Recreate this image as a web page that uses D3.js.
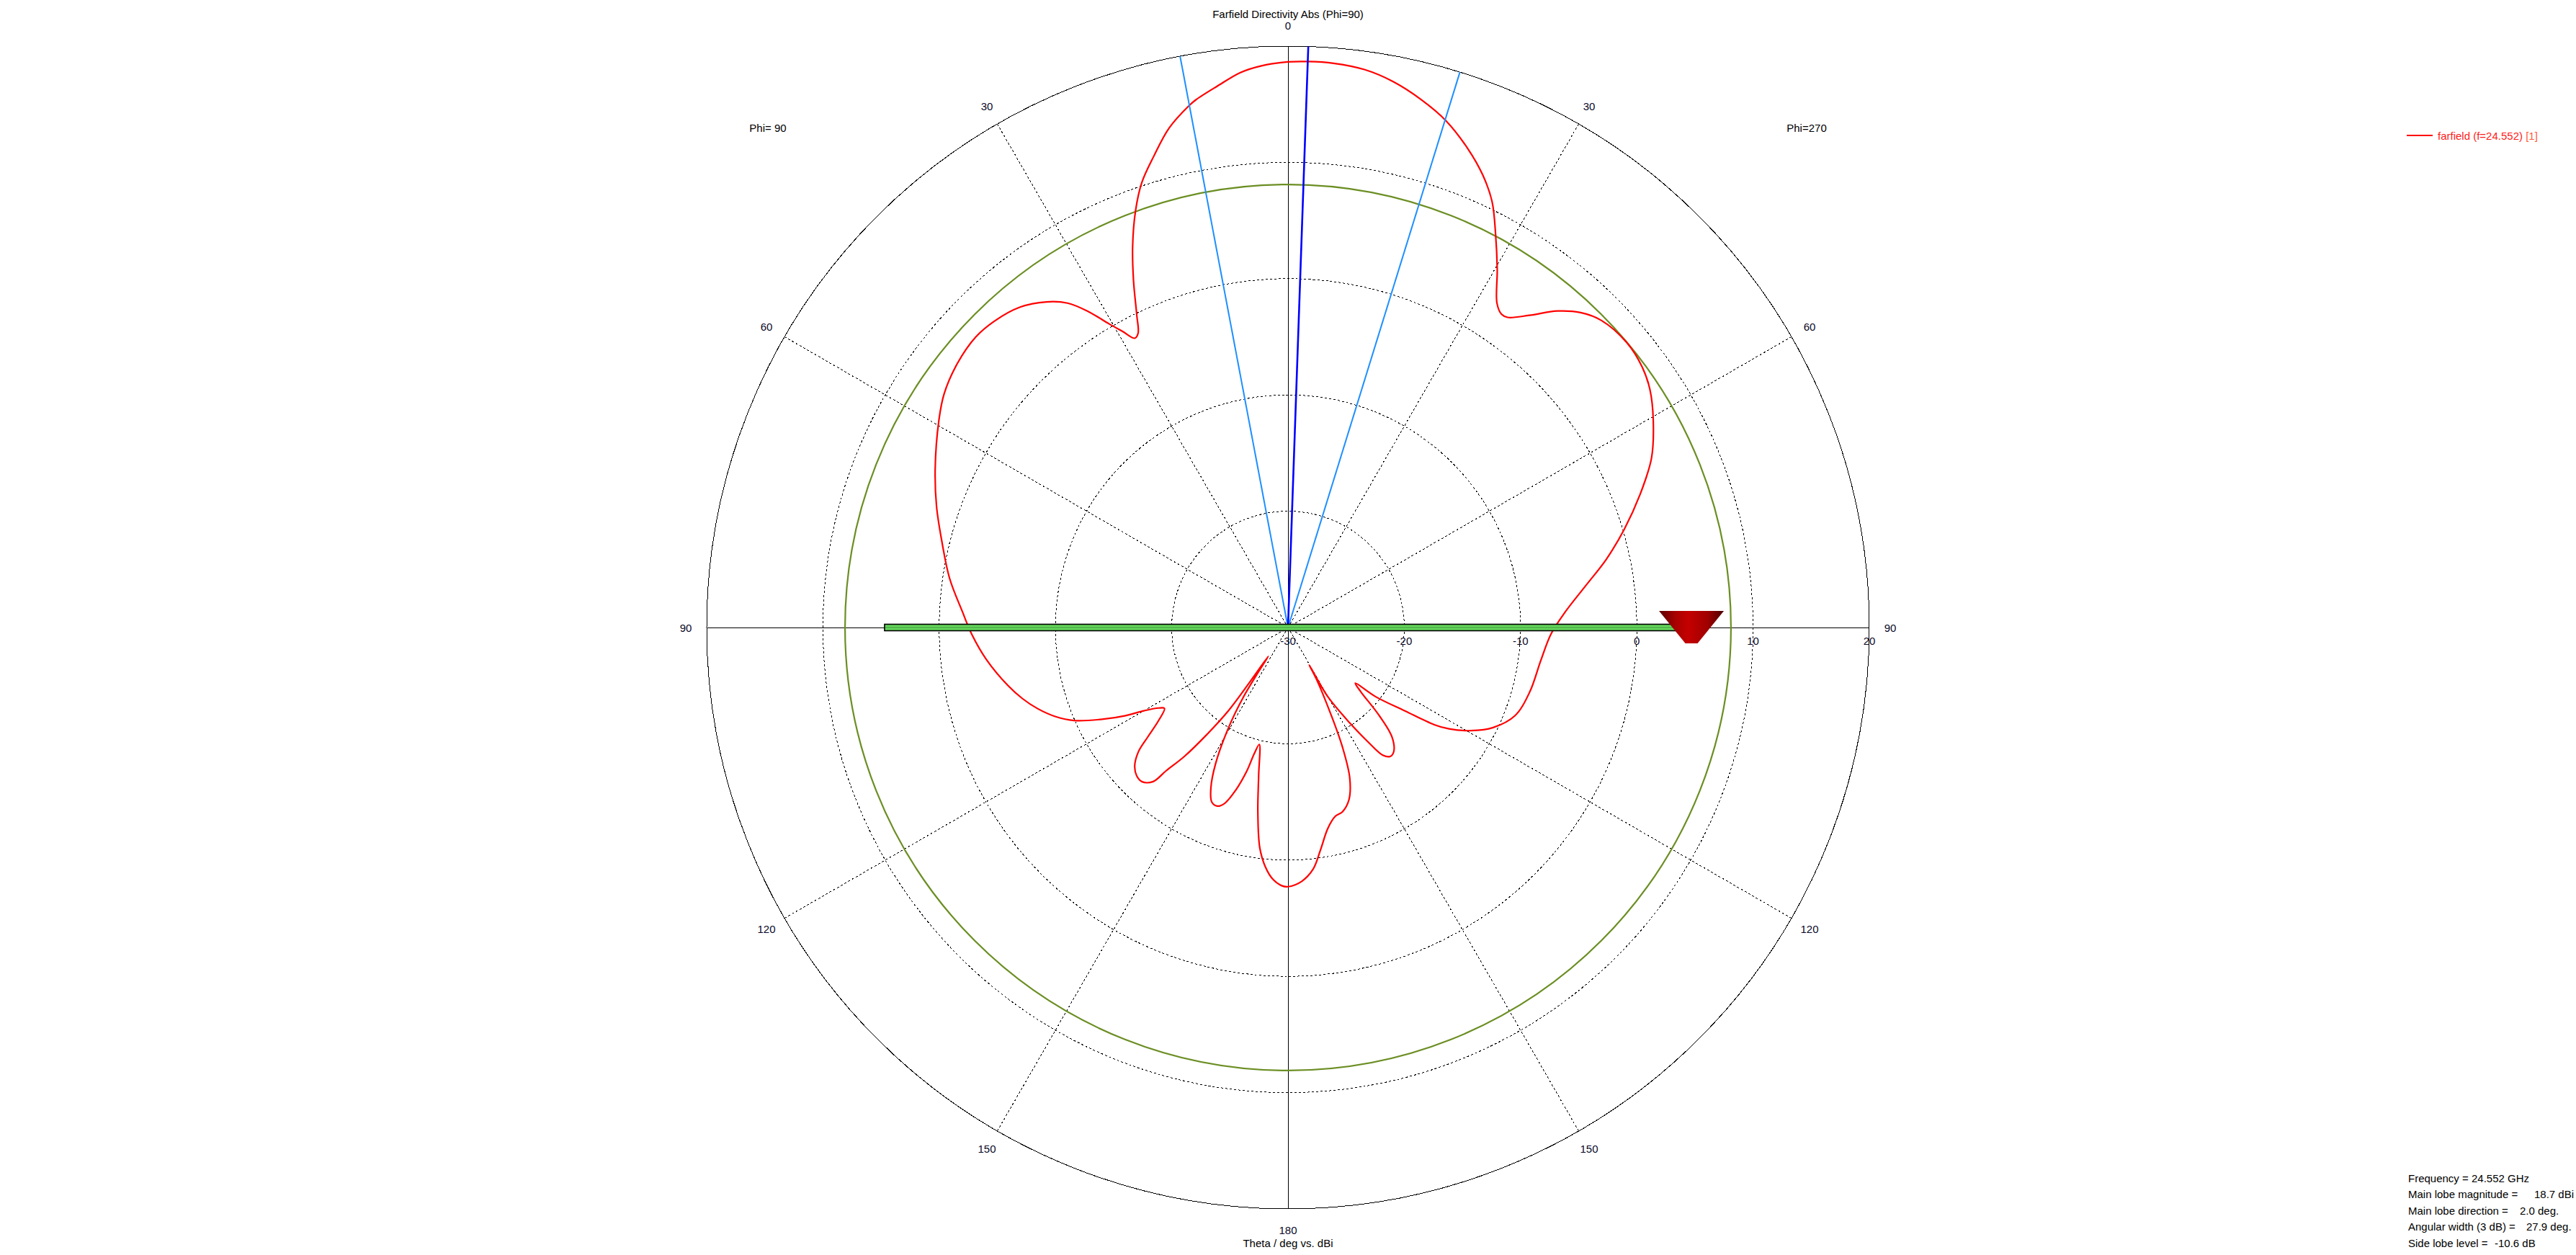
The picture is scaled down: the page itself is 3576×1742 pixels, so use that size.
<!DOCTYPE html>
<html>
<head>
<meta charset="utf-8">
<script src="https://cdn.jsdelivr.net/npm/d3@7"></script>
<style>
  html, body { margin: 0; padding: 0; background: #fff; }
  svg { display: block; }
  text { font-family: "Liberation Sans", Arial, sans-serif; font-size: 15px; }
</style>
</head>
<body>
<div id="chart"></div>
<script>
// ---------------- DATA ----------------
// Display angle (deg, clockwise from top; left half = Phi 90, right half = Phi 270)
const thetaDeg = [
  -178.6, -176.5, -174.6, -172.7, -170.7, -168.8, -166.2, -165.0, -164.0, -162.2,
  -160.2, -158.4, -156.4, -154.3, -152.0, -149.3, -147.3, -146.3, -145.6, -145.0,
  -144.4, -142.8, -141.2, -139.6, -138.8, -136.6, -134.4, -132.1, -129.7, -128.0,
  -125.7, -123.2, -121.9, -120.0, -118.5, -116.4, -113.5, -111.0, -107.9, -105.0,
  -101.7, -96.0, -91.2, -87.3, -81.7, -75.9, -71.0, -65.8, -59.3, -55.8,
  -51.4, -47.1, -43.8, -39.9, -36.6, -34.2, -32.3, -30.5, -29.2, -27.9,
  -27.0, -25.8, -24.0, -22.2, -20.1, -18.2, -15.9, -13.4, -10.7, -9.9,
  -7.5, -4.9, -2.7, 0.0, 2.0, 4.6, 7.8, 10.9, 14.2, 17.3,
  20.6, 23.3, 25.6, 27.9, 30.3, 32.8, 34.3, 35.3, 37.7, 40.4,
  42.9, 45.6, 50.0, 53.7, 56.7, 60.4, 65.0, 69.4, 73.7, 77.9,
  82.0, 86.8, 91.4, 97.4, 104.9, 111.2, 116.0, 119.4, 122.2, 123.6,
  125.5, 128.3, 129.6, 131.4, 134.0, 136.5, 139.6, 141.6, 143.4, 145.0,
  147.1, 150.1, 150.5, 151.2, 153.8, 155.5, 157.7, 160.5, 163.5, 166.0,
  168.8, 171.7, 174.1, 176.9, 180.0
];
const directivityDbi = [
  -7.79, -8.33, -9.32, -10.9, -13.95, -17.0, -19.65, -18.74, -17.17, -15.32,
  -13.93, -13.48, -13.62, -14.71, -16.73, -19.98, -22.9, -25.5, -27.0, -24.2,
  -21.2, -18.4, -15.77, -13.81, -12.39, -11.74, -11.78, -12.23, -13.28, -14.68,
  -16.3, -17.3, -16.9, -15.68, -14.11, -12.28, -9.94, -8.6, -7.34, -6.36,
  -5.4, -3.9, -2.79, -1.98, -0.58, 0.71, 1.97, 3.27, 4.92, 5.76,
  6.39, 6.68, 6.5, 5.92, 4.88, 3.73, 2.15, 0.3, -0.83, -1.85,
  -1.6, -0.1, 2.67, 5.37, 8.16, 10.27, 12.14, 14.15, 15.7, 16.07,
  16.93, 17.9, 18.36, 18.64, 18.7, 18.68, 18.43, 17.81, 16.81, 15.66,
  13.98, 12.36, 10.62, 8.17, 5.67, 3.18, 2.6, 2.68, 3.93, 5.74,
  6.97, 7.74, 8.07, 7.81, 7.25, 6.13, 4.5, 2.32, 0.14, -2.0,
  -4.14, -6.12, -7.37, -8.07, -8.48, -9.05, -10.37, -11.93, -13.64, -14.89,
  -17.65, -20.42, -22.49, -21.66, -19.1, -17.0, -15.97, -15.85, -16.32, -17.98,
  -20.24, -23.16, -26.3, -24.9, -21.55, -18.72, -16.0, -14.29, -13.48, -13.25,
  -12.38, -10.66, -9.09, -8.14, -7.71
];
const radialTicks = [-30, -20, -10, 0, 10, 20];
const radialDomain = [-30, 20];
const angleTicks = [-150, -120, -90, -60, -30, 0, 30, 60, 90, 120, 150, 180];
const mainLobeDirection = 2.0;
const beamEdges = [-10.7, 17.2];
const sideLobeCircleDb = 8.1;
const markerDb = 4.7;               // slider bar half-extent and cone marker position, dB
const titleText = "Farfield Directivity Abs (Phi=90)";
const axisTitle = "Theta / deg vs. dBi";
const halfLabels = ["Phi= 90", "Phi=270"];
const legendName = "farfield (f=24.552)";
const legendTag = " [1]";
const infoLabels = ["Frequency = 24.552 GHz", "Main lobe magnitude =", "Main lobe direction =", "Angular width (3 dB) =", "Side lobe level ="];
const infoValues = ["", "18.7 dBi", "2.0 deg.", "27.9 deg.", "-10.6 dB"];

// ---------------- LAYOUT ----------------
const W = 3576, H = 1742;
const cx = 1788, cy = 871, R = 807;
const rad = d => d * Math.PI / 180;

const svg = d3.select("#chart").append("svg").attr("width", W).attr("height", H);
const r = d3.scaleLinear().domain(radialDomain).range([0, R]);
const g = svg.append("g").attr("transform", `translate(${cx},${cy})`);

const defs = svg.append("defs");
const grad = defs.append("linearGradient").attr("id", "coneGrad").attr("x1", "0").attr("x2", "1").attr("y1", "0").attr("y2", "0");
[["0%", "#5a0000"], ["25%", "#a80000"], ["45%", "#c40000"], ["75%", "#a00000"], ["100%", "#4a0000"]]
  .forEach(([o, c]) => grad.append("stop").attr("offset", o).attr("stop-color", c));

// grid rings
g.selectAll("circle.ring").data(radialTicks.filter(t => t > radialDomain[0] && t < radialDomain[1]))
  .join("circle").attr("class", "ring").attr("r", d => r(d))
  .attr("fill", "none").attr("stroke", "#000").attr("stroke-width", 1).attr("stroke-dasharray", "3,3")
  .attr("shape-rendering", "crispEdges");
// outer circle
g.append("circle").attr("r", r(radialDomain[1])).attr("fill", "none").attr("stroke", "#000").attr("stroke-width", 1)
  .attr("shape-rendering", "crispEdges");

// spokes
g.selectAll("line.spoke").data(angleTicks)
  .join("line").attr("class", "spoke")
  .attr("x1", 0).attr("y1", 0)
  .attr("x2", d => R * Math.sin(rad(d))).attr("y2", d => -R * Math.cos(rad(d)))
  .attr("stroke", "#000").attr("stroke-width", 1)
  .attr("shape-rendering", "crispEdges")
  .attr("stroke-dasharray", d => (Math.abs(d) % 90 === 0) ? null : "3,3");

// side lobe level circle
g.append("circle").attr("r", r(sideLobeCircleDb)).attr("fill", "none")
  .attr("stroke", "#6b8e23").attr("stroke-width", 2.2);

// pattern curve
const pts = thetaDeg.map((t, i) => ({ a: t, v: directivityDbi[i] }));
const radial = d3.lineRadial().angle(d => rad(d.a)).radius(d => r(d.v)).curve(d3.curveCatmullRomClosed.alpha(0.5));
g.append("path").attr("d", radial(pts)).attr("fill", "none").attr("stroke", "#ff0000").attr("stroke-width", 2.2);

// beam lines
g.selectAll("line.edge").data(beamEdges).join("line").attr("class", "edge")
  .attr("x1", 0).attr("y1", 0)
  .attr("x2", d => R * Math.sin(rad(d))).attr("y2", d => -R * Math.cos(rad(d)))
  .attr("stroke", "#1e8fff").attr("stroke-width", 2);
g.append("line").attr("x1", 0).attr("y1", 0)
  .attr("x2", R * Math.sin(rad(mainLobeDirection))).attr("y2", -R * Math.cos(rad(mainLobeDirection)))
  .attr("stroke", "#0000ff").attr("stroke-width", 2.6);

// slider bar
const mx = r(markerDb);
g.append("rect").attr("x", -mx).attr("y", -4.5)
  .attr("width", 2 * mx).attr("height", 9)
  .attr("fill", "#62d75a").attr("stroke", "#000").attr("stroke-width", 1.6);
g.append("line").attr("x1", -mx).attr("x2", mx).attr("y1", 0).attr("y2", 0)
  .attr("stroke", "#1a3a1a").attr("stroke-width", 0.8).attr("opacity", 0.5);

// marker cone
g.append("path")
  .attr("d", `M${mx - 45},-23 L${mx + 45},-23 L${mx + 8.5},22 L${mx - 8.5},22 Z`)
  .attr("fill", "url(#coneGrad)");

// angular labels
g.selectAll("text.alab").data(angleTicks)
  .join("text").attr("class", "alab")
  .attr("x", d => 836 * Math.sin(rad(d))).attr("y", d => -836 * Math.cos(rad(d)))
  .attr("text-anchor", "middle").attr("dominant-baseline", "central")
  .attr("fill", "#0a0a2a")
  .text(d => Math.abs(d));

// radial labels
g.selectAll("text.rlab").data(radialTicks).join("text").attr("class", "rlab")
  .attr("x", d => r(d)).attr("y", 18)
  .attr("text-anchor", "middle").attr("dominant-baseline", "central")
  .attr("fill", "#0a0a2a")
  .text(d => d);

// titles
svg.append("text").attr("x", cx).attr("y", 19).attr("text-anchor", "middle").attr("dominant-baseline", "central")
  .attr("fill", "#000").text(titleText);
svg.append("text").attr("x", cx).attr("y", 1725).attr("text-anchor", "middle").attr("dominant-baseline", "central")
  .attr("fill", "#000").text(axisTitle);
svg.append("text").attr("x", 1066).attr("y", 177).attr("text-anchor", "middle").attr("dominant-baseline", "central")
  .attr("fill", "#000").text(halfLabels[0]);
svg.append("text").attr("x", 2508).attr("y", 177).attr("text-anchor", "middle").attr("dominant-baseline", "central")
  .attr("fill", "#000").text(halfLabels[1]);

// legend
svg.append("line").attr("x1", 3341).attr("x2", 3377).attr("y1", 188).attr("y2", 188)
  .attr("stroke", "#ff0000").attr("stroke-width", 2);
const lt = svg.append("text").attr("x", 3384).attr("y", 188).attr("dominant-baseline", "central").attr("fill", "#ff1a1a");
lt.append("tspan").text(legendName);
lt.append("tspan").attr("fill", "#ff5a3a").text(legendTag);

// info box
const valueX = [null, 3518, 3498, 3507, 3463];
infoLabels.forEach((t, i) => {
  const y = 1635 + i * 22.5;
  svg.append("text").attr("x", 3343).attr("y", y).attr("dominant-baseline", "central").attr("fill", "#000").text(t);
  if (infoValues[i]) svg.append("text").attr("x", valueX[i]).attr("y", y).attr("dominant-baseline", "central").attr("fill", "#000").text(infoValues[i]);
});
</script>
</body>
</html>
